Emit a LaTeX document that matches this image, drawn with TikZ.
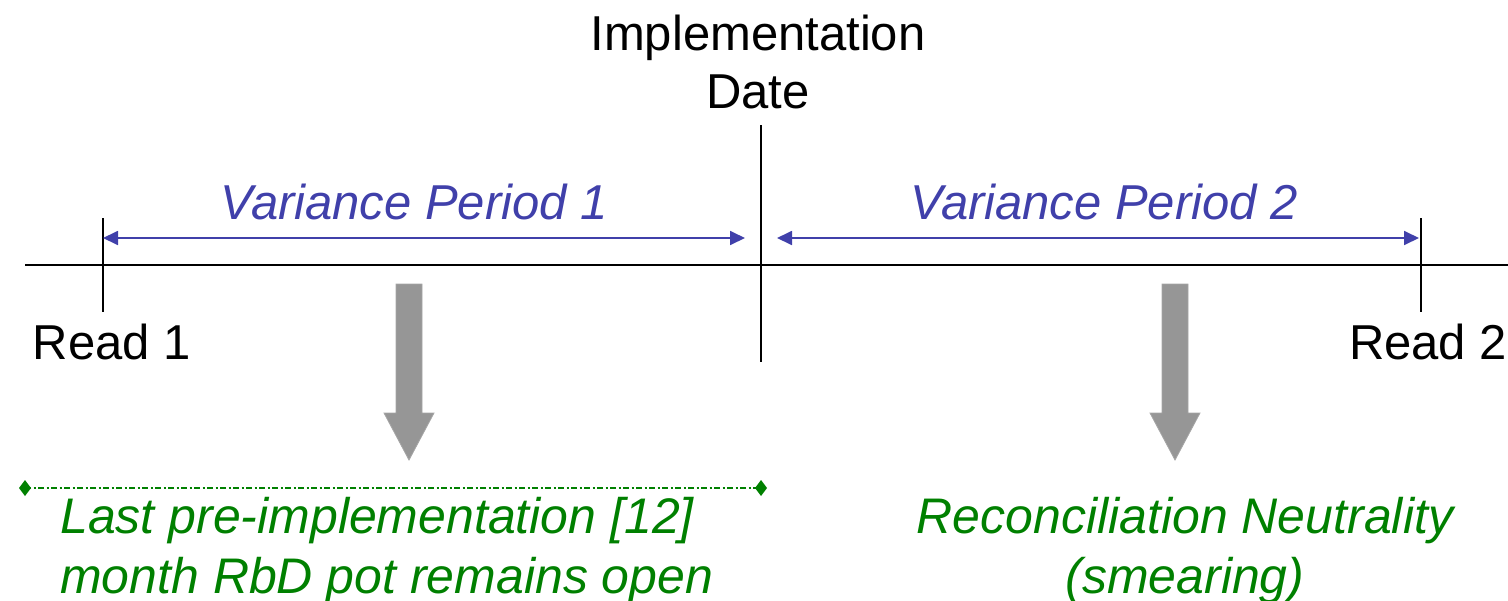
\documentclass[tikz,border=0pt]{standalone}
\usepackage{fontspec}
\setmainfont{Liberation Sans}
\usetikzlibrary{arrows.meta}
\definecolor{vblue}{RGB}{64,64,170}
\definecolor{dgreen}{RGB}{0,128,0}
\definecolor{agray}{RGB}{150,150,150}
\begin{document}
\begin{tikzpicture}[x=1pt,y=-1pt,
  lbl/.style={font=\fontsize{49}{58}\selectfont, inner sep=0pt, align=center},
  vlbl/.style={lbl, text=vblue, font=\fontsize{49}{58}\selectfont\itshape},
  glbl/.style={lbl, text=dgreen, font=\fontsize{50}{60}\selectfont\itshape},
  tick/.style={line width=2pt, black},
  span/.style={line width=1.8pt, vblue, {Triangle[length=15pt,width=14pt]}-{Triangle[length=15pt,width=14pt]}},
  bigarrow/.style={fill=agray, draw=agray!85!white, line width=0.8pt},
  gdiam/.style={fill=dgreen}
]
\useasboundingbox (0,0) rectangle (1508,600);
% axis
\coordinate (axL) at (25,265);
\coordinate (axR) at (1508,265);
\draw[tick] (axL) -- (axR);
% ticks
\coordinate (r1t) at (103,218); \coordinate (r1b) at (103,312);
\coordinate (imt) at (761,125); \coordinate (imb) at (761,362);
\coordinate (r2t) at (1421,218); \coordinate (r2b) at (1421,312);
\draw[tick] (r1t) -- (r1b);
\draw[tick] (imt) -- (imb);
\draw[tick] (r2t) -- (r2b);
% spans
\coordinate (s1a) at (103,238); \coordinate (s1b) at (745,238);
\coordinate (s2a) at (777,238); \coordinate (s2b) at (1419,238);
\draw[span] (s1a) -- (s1b);
\draw[span] (s2a) -- (s2b);
% labels
\node[lbl, anchor=base] (impl) at (758,108) {Implementation\\Date};
\node[vlbl, anchor=base] (vp1) at (414,219) {Variance Period 1};
\node[vlbl, anchor=base] (vp2) at (1104,219) {Variance Period 2};
\node[lbl, anchor=base] (read1) at (112,359) {Read 1};
\node[lbl, anchor=base] (read2) at (1428,359) {Read 2};
% gray arrows
\draw[bigarrow] (396,284) -- (422,284) -- (422,413) -- (434,413) -- (409,460) -- (384,413) -- (396,413) -- cycle;
\draw[bigarrow] (1162,284) -- (1188,284) -- (1188,413) -- (1200,413) -- (1175,460) -- (1150,413) -- (1162,413) -- cycle;
% green dash-dot line
\coordinate (gl) at (25,488); \coordinate (gr) at (761,488);
\draw[dgreen, line width=1.3pt, dash pattern=on 6pt off 2.5pt on 2pt off 2.5pt] (gl) -- (gr);
\fill[gdiam] (gl) ++(-6,0) -- ++(6,-8) -- ++(6,8) -- ++(-6,8) -- cycle;
\fill[gdiam] (gr) ++(-6,0) -- ++(6,-8) -- ++(6,8) -- ++(-6,8) -- cycle;
% green texts
\node[glbl, anchor=base west, align=left] (last) at (60,593) {Last pre-implementation [12]\\month RbD pot remains open};
\node[glbl, anchor=base] (recon) at (1185,593) {Reconciliation Neutrality\\(smearing)};
\end{tikzpicture}
\end{document}
